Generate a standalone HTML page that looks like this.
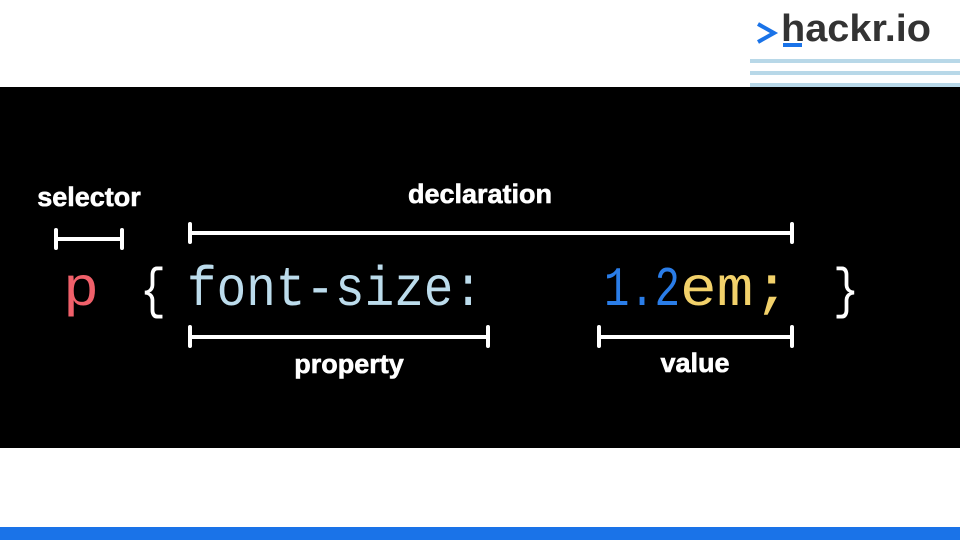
<!DOCTYPE html>
<html><head><meta charset="utf-8"><style>
body{margin:0;width:960px;height:540px;background:#fff;position:relative;overflow:hidden;font-family:"Liberation Sans",sans-serif}
.a{position:absolute}
</style></head><body>
<svg class="a" style="left:0;top:0" width="960" height="540">
  <g>
    <polyline points="758,24 774,33 758,42" fill="none" stroke="#1a73e8" stroke-width="4"/>
    <text x="781" y="41" font-family="Liberation Sans" font-weight="bold" font-size="38" fill="#333" textLength="150" lengthAdjust="spacingAndGlyphs">hackr.io</text>
    <rect x="783" y="43" width="19" height="4" fill="#1a73e8"/>
    <rect x="750" y="59" width="210" height="4" fill="#b8d8e8"/>
    <rect x="750" y="71" width="210" height="4" fill="#b8d8e8"/>
    <rect x="750" y="83" width="210" height="4" fill="#b8d8e8"/>
  </g>
  <rect x="0" y="87" width="960" height="361" fill="#000"/>
  <rect x="0" y="527" width="960" height="13" fill="#1a73e8"/>
  <g font-family="Liberation Sans" font-weight="bold" font-size="27" fill="#fff" text-anchor="middle" stroke="#fff" stroke-width="0.6">
    <text x="89" y="206">selector</text>
    <text x="480" y="203">declaration</text>
    <text x="349" y="373">property</text>
    <text x="695" y="372">value</text>
  </g>
  <g stroke="#fff" stroke-width="4" stroke-linecap="round" fill="none">
    <path d="M56,239H122M56,230V248M122,230V248"/>
    <path d="M190,233H792M190,224V242M792,224V242"/>
    <path d="M190,337H488M190,327V346M488,327V346"/>
    <path d="M599,337H792M599,327V346M792,327V346"/>
  </g>
  <g font-family="Liberation Mono" font-size="56">
    <text x="63" y="305" fill="#f0606a" textLength="36" lengthAdjust="spacingAndGlyphs">p</text>
    <text x="140" y="307" fill="#fff" textLength="26" lengthAdjust="spacingAndGlyphs">{</text>
    <text x="187" y="305" fill="#bcdcec" textLength="296" lengthAdjust="spacingAndGlyphs">font-size:</text>
    <text x="604" y="305" fill="#2a7de8" textLength="76" lengthAdjust="spacingAndGlyphs">1.2</text>
    <text x="680" y="305" fill="#f2d16a" textLength="110" lengthAdjust="spacingAndGlyphs">em;</text>
    <text x="833" y="307" fill="#fff" textLength="26" lengthAdjust="spacingAndGlyphs">}</text>
  </g>
</svg>
</body></html>
